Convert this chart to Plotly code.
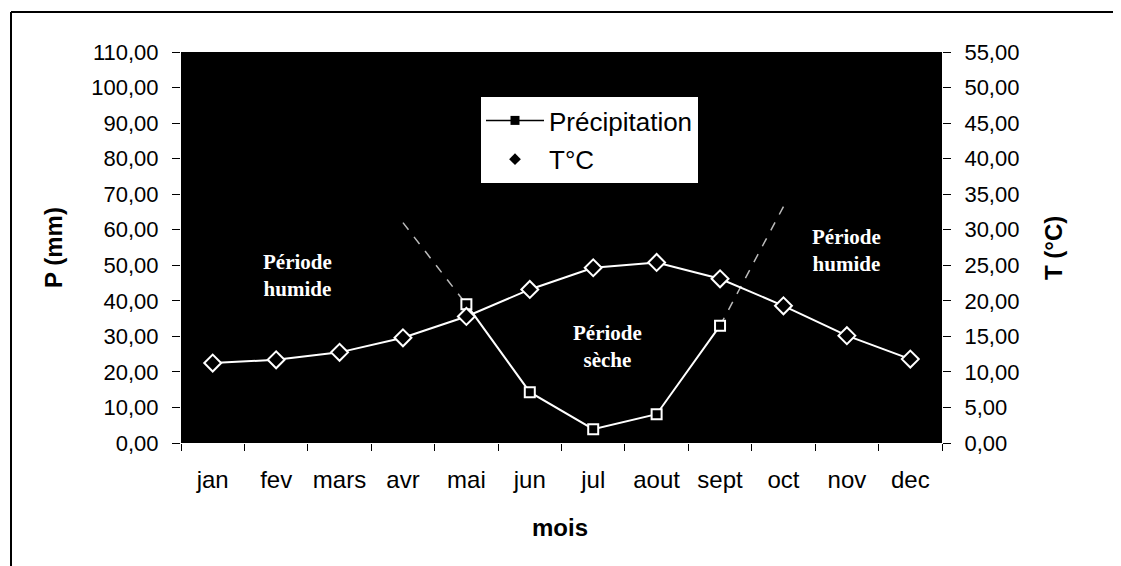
import plotly.graph_objects as go

# ---- data ----
months = ["jan", "fev", "mars", "avr", "mai", "jun", "jul", "aout", "sept", "oct", "nov", "dec"]
precip = [None, None, None, 62.0, 39.0, 14.3, 3.9, 8.1, 33.0, 66.5, None, None]
temp = [11.25, 11.7, 12.75, 14.8, 17.8, 21.6, 24.65, 25.4, 23.1, 19.3, 15.1, 11.8]
p_ticks = [0, 10, 20, 30, 40, 50, 60, 70, 80, 90, 100, 110]
t_ticks = [0, 5, 10, 15, 20, 25, 30, 35, 40, 45, 50, 55]

def fr(v):
    return f"{v:.2f}".replace(".", ",")

OFF = 8  # default page body margin
W, H = 1121 - OFF, 566 - OFF
# plot area in page pixels: x 181..942, y 52..443
L, T = 181 - OFF, 52 - OFF
pw, ph = 761, 391
R = W - L - pw
B = H - T - ph

def px(x):  # page x -> paper
    return (x - 181) / pw

def py(y):  # page y -> paper
    return (443 - y) / ph

AR = "Liberation Sans, Arial, sans-serif"
SERIF = "Liberation Serif, Times New Roman, serif"

fig = go.Figure()

# faded precipitation segments (avr-mai, sept-oct)
fx = months[3:5] + [None] + months[8:10]
fy = precip[3:5] + [None] + precip[8:10]
fig.add_trace(go.Scatter(x=fx, y=fy, mode="lines", yaxis="y",
                         line=dict(color="#bbbbbb", width=1.5, dash="dash"),
                         showlegend=False, connectgaps=False, hoverinfo="skip"))
# main precipitation segment
fig.add_trace(go.Scatter(x=months[4:9], y=precip[4:9], mode="lines+markers", yaxis="y",
                         line=dict(color="white", width=2),
                         marker=dict(symbol="square", size=10, color="black",
                                     line=dict(color="white", width=2)),
                         showlegend=False))
# temperature
fig.add_trace(go.Scatter(x=months, y=temp, mode="lines+markers", yaxis="y2",
                         line=dict(color="white", width=2),
                         marker=dict(symbol="diamond", size=13, color="black",
                                     line=dict(color="white", width=2)),
                         showlegend=False))

# legend-only entries (black symbols as in the reference legend)
fig.add_trace(go.Scatter(x=[None], y=[None], mode="lines+markers", name="Précipitation",
                         line=dict(color="black", width=1.5),
                         marker=dict(symbol="square", size=9, color="black"),
                         legendgroup="a"))
fig.add_trace(go.Scatter(x=[None], y=[None], mode="markers", name="T°C",
                         marker=dict(symbol="diamond", size=9, color="black"),
                         legendgroup="b"))

fig.update_layout(
    width=W, height=H,
    margin=dict(l=L, r=R, t=T, b=B, autoexpand=False),
    paper_bgcolor="white", plot_bgcolor="black",
    font=dict(family=AR, size=23, color="black"),
    xaxis=dict(type="category", categoryorder="array", categoryarray=months,
               range=[-0.5, 11.5], tickson="boundaries",
               ticks="outside", ticklen=7, tickcolor="black", tickwidth=1,
               showgrid=False, zeroline=False, showline=False,
               tickfont=dict(size=24), ticklabelstandoff=20),
    yaxis=dict(range=[0, 110], tickvals=p_ticks, ticktext=[fr(v) for v in p_ticks],
               ticks="outside", ticklen=8, tickcolor="black", showgrid=False,
               zeroline=False, showline=False, tickfont=dict(size=22),
               ticklabelstandoff=9),
    yaxis2=dict(range=[0, 55], tickvals=t_ticks, ticktext=[fr(v) for v in t_ticks],
                overlaying="y", side="right",
                ticks="outside", ticklen=8, tickcolor="black", showgrid=False,
                zeroline=False, showline=False, tickfont=dict(size=22),
                ticklabelstandoff=9),
    legend=dict(x=px(481), y=py(97), xanchor="left", yanchor="top",
                bgcolor="white", borderwidth=0, font=dict(size=26),
                tracegroupgap=2, itemwidth=58),
    showlegend=True,
)

ann = [
    dict(text="<b>P (mm)</b>", x=px(53), y=py(248), textangle=-90, font=dict(size=24)),
    dict(text="<b>T (°C)</b>", x=px(1053), y=py(248), textangle=-90, font=dict(size=24)),
    dict(text="<b>mois</b>", x=px(560), y=py(527), font=dict(size=24)),
    dict(text="<b>Période<br>humide</b>", x=px(297), y=py(275),
         font=dict(family=SERIF, size=21, color="white")),
    dict(text="<b>Période<br>sèche</b>", x=px(607), y=py(346),
         font=dict(family=SERIF, size=21, color="white")),
    dict(text="<b>Période<br>humide</b>", x=px(846), y=py(250),
         font=dict(family=SERIF, size=21, color="white")),
]
for a in ann:
    fig.add_annotation(xref="paper", yref="paper", showarrow=False,
                       xanchor="center", yanchor="middle", **a)

# outer frame (top and left edges visible in the reference)
fig.add_shape(type="line", xref="paper", yref="paper",
              x0=px(11), x1=px(1125), y0=py(12), y1=py(12),
              line=dict(color="black", width=2))
fig.add_shape(type="line", xref="paper", yref="paper",
              x0=px(11), x1=px(11), y0=py(12), y1=py(570),
              line=dict(color="black", width=2))

fig.write_html("out.html")
